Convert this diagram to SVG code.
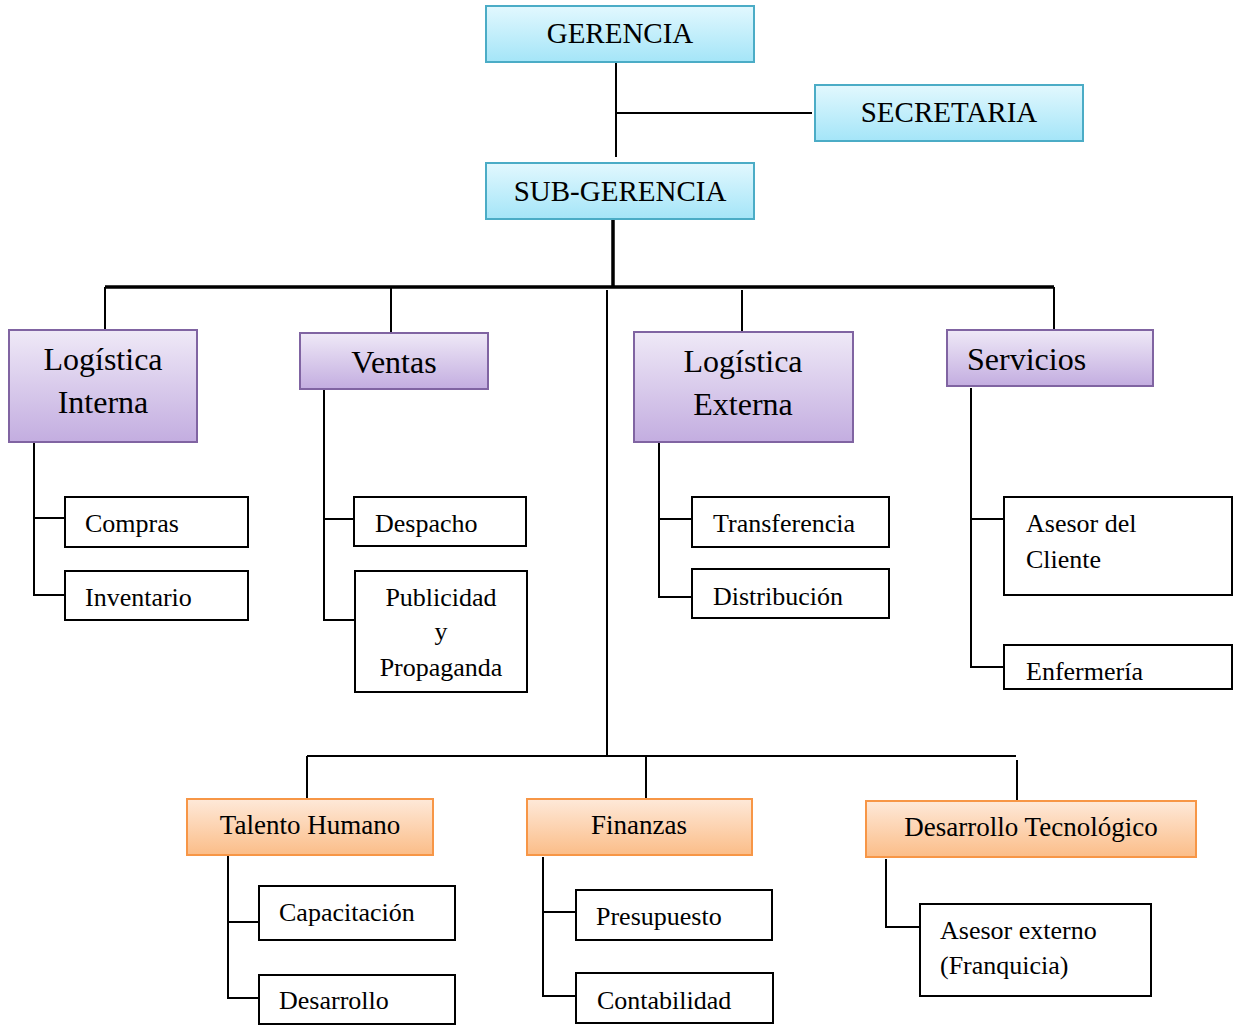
<svg xmlns="http://www.w3.org/2000/svg" width="1233" height="1026" viewBox="0 0 1233 1026">
<defs>
<linearGradient id="gc" x1="0" y1="0" x2="0" y2="1"><stop offset="0" stop-color="#e2f8fe"/><stop offset="1" stop-color="#a4e5f8"/></linearGradient>
<linearGradient id="gp" x1="0" y1="0" x2="0" y2="1"><stop offset="0" stop-color="#efe9f7"/><stop offset="1" stop-color="#c3ade0"/></linearGradient>
<linearGradient id="go" x1="0" y1="0" x2="0" y2="1"><stop offset="0" stop-color="#fee9d9"/><stop offset="1" stop-color="#fbbd88"/></linearGradient>
<style>
text{font-family:"Liberation Serif","Times New Roman",serif;fill:#000}
.c{fill:url(#gc);stroke:#4bacc6;stroke-width:2}
.p{fill:url(#gp);stroke:#8064a2;stroke-width:2}
.o{fill:url(#go);stroke:#f79646;stroke-width:2}
.w{fill:#fff;stroke:#000;stroke-width:2}
.t1{font-size:29px;text-anchor:middle}
.t2{font-size:32px}
.t3{font-size:27px;text-anchor:middle}
.t4{font-size:26px}
.m{text-anchor:middle}
.ln{stroke:#000;stroke-width:2;fill:none}
.lt{stroke:#000;stroke-width:3.5;fill:none}
</style>
</defs>
<g id="connectors">
<path class="ln" d="M616 62V157M616 113H812"/>
<path class="lt" d="M613 219V287M105 287H1054"/>
<path class="ln" d="M105 287V330M391 287V332M742 290V332M1054 287V330M607 290V756M307 756H1016M307 756V799M646 756V799M1017 760V801"/>
<path class="ln" d="M34 442V595H65M34 518H65"/>
<path class="ln" d="M324 389V620H355M324 519H354"/>
<path class="ln" d="M659 442V597H692M659 519H692"/>
<path class="ln" d="M971 388V667H1004M971 519H1004"/>
<path class="ln" d="M228 855V998H259M228 922H259"/>
<path class="ln" d="M543 857V996H576M543 912H576"/>
<path class="ln" d="M886 859V927H920"/>
</g>
<g id="gerencia"><rect class="c" x="486" y="6" width="268" height="56"/><text class="t1" x="620" y="43">GERENCIA</text></g>
<g id="secretaria"><rect class="c" x="815" y="85" width="268" height="56"/><text class="t1" x="949" y="122">SECRETARIA</text></g>
<g id="subgerencia"><rect class="c" x="486" y="163" width="268" height="56"/><text class="t1" x="620" y="201">SUB-GERENCIA</text></g>
<g id="logistica-interna"><rect class="p" x="9" y="330" width="188" height="112"/><text class="t2 m" x="103" y="370">Logística</text><text class="t2 m" x="103" y="413">Interna</text></g>
<g id="ventas"><rect class="p" x="300" y="333" width="188" height="56"/><text class="t2 m" x="394" y="373">Ventas</text></g>
<g id="logistica-externa"><rect class="p" x="634" y="332" width="219" height="110"/><text class="t2 m" x="743" y="372">Logística</text><text class="t2 m" x="743" y="415">Externa</text></g>
<g id="servicios"><rect class="p" x="947" y="330" width="206" height="56"/><text class="t2" x="967" y="370">Servicios</text></g>
<g id="compras"><rect class="w" x="65" y="497" width="183" height="50"/><text class="t4" x="85" y="532">Compras</text></g>
<g id="inventario"><rect class="w" x="65" y="571" width="183" height="49"/><text class="t4" x="85" y="606">Inventario</text></g>
<g id="despacho"><rect class="w" x="354" y="497" width="172" height="49"/><text class="t4" x="375" y="532">Despacho</text></g>
<g id="publicidad"><rect class="w" x="355" y="571" width="172" height="121"/><text class="t4 m" x="441" y="606">Publicidad</text><text class="t4 m" x="441" y="640">y</text><text class="t4 m" x="441" y="676">Propaganda</text></g>
<g id="transferencia"><rect class="w" x="692" y="497" width="197" height="50"/><text class="t4" x="713" y="532">Transferencia</text></g>
<g id="distribucion"><rect class="w" x="692" y="569" width="197" height="49"/><text class="t4" x="713" y="605">Distribución</text></g>
<g id="asesor-cliente"><rect class="w" x="1004" y="497" width="228" height="98"/><text class="t4" x="1026" y="532">Asesor del</text><text class="t4" x="1026" y="568">Cliente</text></g>
<g id="enfermeria"><rect class="w" x="1004" y="645" width="228" height="44"/><text class="t4" x="1026" y="680">Enfermería</text></g>
<g id="talento-humano"><rect class="o" x="187" y="799" width="246" height="56"/><text class="t3" x="310" y="834">Talento Humano</text></g>
<g id="finanzas"><rect class="o" x="527" y="799" width="225" height="56"/><text class="t3" x="639" y="834">Finanzas</text></g>
<g id="desarrollo-tecnologico"><rect class="o" x="866" y="801" width="330" height="56"/><text class="t3" x="1031" y="836">Desarrollo Tecnológico</text></g>
<g id="capacitacion"><rect class="w" x="259" y="886" width="196" height="54"/><text class="t4" x="279" y="921">Capacitación</text></g>
<g id="desarrollo"><rect class="w" x="259" y="975" width="196" height="49"/><text class="t4" x="279" y="1009">Desarrollo</text></g>
<g id="presupuesto"><rect class="w" x="576" y="890" width="196" height="50"/><text class="t4" x="596" y="925">Presupuesto</text></g>
<g id="contabilidad"><rect class="w" x="576" y="973" width="197" height="50"/><text class="t4" x="597" y="1009">Contabilidad</text></g>
<g id="asesor-externo"><rect class="w" x="920" y="904" width="231" height="92"/><text class="t4" x="940" y="939">Asesor externo</text><text class="t4" x="940" y="974">(Franquicia)</text></g>
</svg>
